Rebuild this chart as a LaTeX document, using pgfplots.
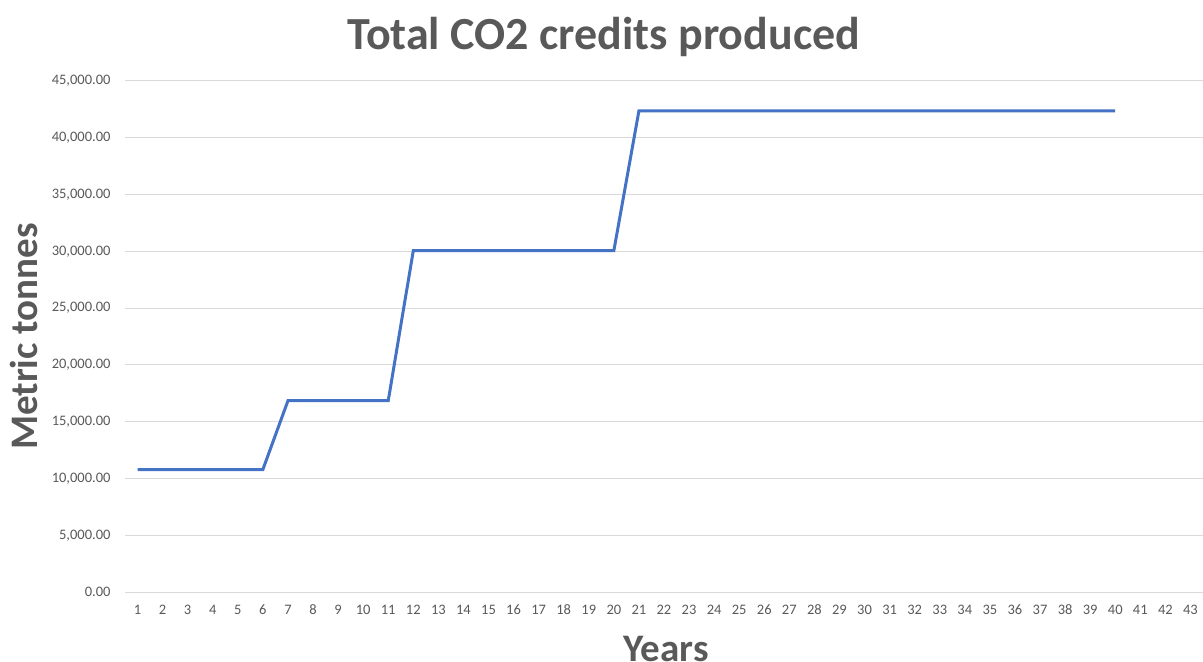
\documentclass[border=0pt]{standalone}
\usepackage{pgfplots}
\pgfplotsset{compat=1.18}
\usepackage{fontspec}
\setmainfont{Carlito}
\definecolor{txtgray}{HTML}{595959}
\definecolor{gridgray}{HTML}{D9D9D9}
\definecolor{xlblue}{HTML}{4472C4}
\begin{document}
\begin{tikzpicture}
\begin{axis}[
  at={(125bp,69.7bp)}, anchor=south west,
  scale only axis,
  width=1078bp, height=511.6bp,
  xmin=0.5, xmax=43.5,
  ymin=0, ymax=45000,
  xtick={1,...,43},
  ytick={0,5000,...,45000},
  axis line style={draw=none},
  tick style={draw=none},
  ymajorgrids,
  major grid style={gridgray, line width=1bp},
  /pgf/number format/assume math mode=true,
  yticklabel style={/pgf/number format/fixed, /pgf/number format/zerofill,
    /pgf/number format/precision=2, /pgf/number format/1000 sep={,},
    font=\fontsize{14.5bp}{16bp}\selectfont, text=txtgray, xshift=-11bp},
  xticklabel style={font=\fontsize{14.5bp}{16bp}\selectfont, text=txtgray, yshift=-9bp},
  scaled y ticks=false,
  xlabel={Years},
  ylabel={Metric tonnes},
  xlabel style={at={(axis description cs:0.502,-0.111)}, anchor=center,
    font=\bfseries\fontsize{39bp}{42bp}\selectfont, text=txtgray},
  ylabel style={at={(axis description cs:-0.0935,0.5)}, anchor=center,
    font=\bfseries\fontsize{39bp}{42bp}\selectfont, text=txtgray},
  title={Total CO2 credits produced},
  title style={at={(axis description cs:0.444,1.0)}, anchor=center, yshift=90bp-35bp-17bp,
    font=\bfseries\fontsize{46bp}{50bp}\selectfont, text=txtgray},
  clip=false,
]
\addplot[xlblue, line width=3bp, mark=none] coordinates {
(1,10800) (2,10800) (3,10800) (4,10800) (5,10800) (6,10800)
(7,16850) (8,16850) (9,16850) (10,16850) (11,16850)
(12,30050) (13,30050) (14,30050) (15,30050) (16,30050) (17,30050) (18,30050) (19,30050) (20,30050)
(21,42350) (22,42350) (23,42350) (24,42350) (25,42350) (26,42350) (27,42350) (28,42350) (29,42350) (30,42350)
(31,42350) (32,42350) (33,42350) (34,42350) (35,42350) (36,42350) (37,42350) (38,42350) (39,42350) (40,42350)
};
\end{axis}
\pgfresetboundingbox
\path[use as bounding box] (0,0) rectangle (1203bp,662bp);
\end{tikzpicture}
\end{document}
